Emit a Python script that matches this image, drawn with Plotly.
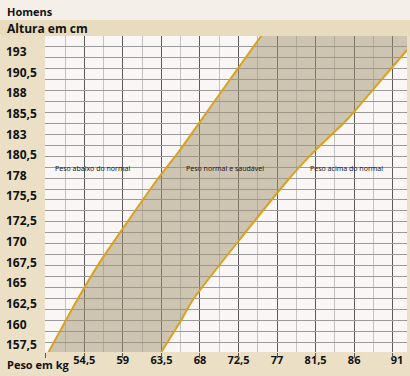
import plotly.graph_objects as go

# Tick labels
x_ticks = [54.5, 59, 63.5, 68, 72.5, 77, 81.5, 86, 91]
x_ticktext = ["54,5", "59", "63,5", "68", "72,5", "77", "81,5", "86", "91"]
y_ticks = [157.5, 160, 162.5, 165, 167.5, 170, 172.5, 175.5, 178, 180.5, 183, 185.5, 188, 190.5, 193]
y_ticktext = [("%g" % v).replace(".", ",") for v in y_ticks]

# Lower weight limit (left boundary of healthy band): height cm -> weight kg
low_height = [156.0, 163.0, 167.5, 177.5, 181.0, 187.0, 196.0]
low_weight = [50.0, 53.7, 56.3, 63.0, 65.6, 69.7, 75.9]

# Upper weight limit (right boundary)
high_height = [156.0, 160.3, 163.0, 177.5, 181.0, 184.7, 188.4, 196.0]
high_weight = [63.1, 65.7, 67.2, 78.3, 81.4, 85.1, 88.2, 94.5]

zone_labels = ["Peso abaixo do normal", "Peso normal e saudável", "Peso acima do normal"]
zone_x = [55.5, 70.9, 85.05]
zone_y = 178.9

XR = [49.91, 92.17]
YR = [156.65, 194.9]
W, H = 410, 376
PW = 407          # plot-region width (l=0, r=3)
PH = 316          # plot-region height (t=36, b=24)
PL = 45           # left edge of the grid (px)
ROWS = PH / 10.93 # printed grid rows

def px(x):
    return x / PW

def py(y):
    return (352 - y) / PH

BOLD = dict(family="Open Sans", size=12, color="#111", weight="bold")
XDOM = [PL / PW, 1]
LINE = dict(color="#d9a21e", width=2, shape="spline", smoothing=0.6)

fig = go.Figure()

fig.add_trace(go.Scatter(x=low_weight, y=low_height, mode="lines", line=LINE, showlegend=False))
fig.add_trace(go.Scatter(x=high_weight, y=high_height, mode="lines", line=LINE, showlegend=False,
                         fill="tonextx", fillcolor="rgba(160,145,110,0.5)"))

# invisible traces to activate overlay axes
fig.add_trace(go.Scatter(x=[XR[0]], y=[0], xaxis="x2", yaxis="y2", mode="none",
                         showlegend=False, hoverinfo="skip"))
fig.add_trace(go.Scatter(x=[XR[0]], y=[YR[0]], xaxis="x", yaxis="y3", mode="none",
                         showlegend=False, hoverinfo="skip"))

for t, xv in zip(zone_labels, zone_x):
    fig.add_annotation(x=xv, y=zone_y, text=t, showarrow=False,
                       font=dict(family="Noto Sans", size=7, color="#1a1a1a"))

# header areas
fig.add_shape(type="rect", xref="paper", yref="paper", x0=-0.05, x1=1.05, y0=py(36), y1=py(20),
              fillcolor="#e8dcbf", line_width=0, layer="below")
fig.add_shape(type="rect", xref="paper", yref="paper", x0=-0.05, x1=1.05, y0=py(20), y1=py(-2),
              fillcolor="#f4efe8", line_width=0, layer="below")

fig.add_annotation(xref="paper", yref="paper", x=px(5), y=py(11), xanchor="left", yanchor="middle",
                   text="<b>Homens</b>", showarrow=False,
                   font=dict(family="Open Sans", size=11, color="#111"))
fig.add_annotation(xref="paper", yref="paper", x=px(5), y=py(28.5), xanchor="left", yanchor="middle",
                   text="<b>Altura em cm</b>", showarrow=False,
                   font=dict(family="Open Sans", size=12, color="#111"))
fig.add_annotation(xref="paper", yref="paper", x=px(5), y=py(364), xanchor="left", yanchor="middle",
                   text="<b>Peso em kg</b>", showarrow=False,
                   font=dict(family="Open Sans", size=11, color="#111"))

fig.update_layout(
    width=W, height=H,
    margin=dict(l=0, r=3, t=36, b=24),
    paper_bgcolor="#ebe0c5",
    plot_bgcolor="#faf6f5",
    showlegend=False,
    xaxis=dict(range=XR, domain=XDOM, tickvals=x_ticks, ticktext=x_ticktext, showgrid=False,
               ticks="", zeroline=False, automargin=False, anchor="y",
               tickfont=dict(family="Open Sans", size=11, color="#111", weight="bold"),
               minor=dict(tick0=50, dtick=2.25, showgrid=True, gridcolor="#c2c2c2", gridwidth=1)),
    xaxis2=dict(range=XR, overlaying="x", anchor="y", tick0=50, dtick=4.5,
                showgrid=True, gridcolor="#5a5a5a", gridwidth=1, showticklabels=False,
                ticks="outside", ticklen=5, tickcolor="#555", side="bottom",
                zeroline=False, automargin=False),
    yaxis=dict(range=YR, showgrid=False, showticklabels=False, ticks="",
               zeroline=False, automargin=False, anchor="x"),
    yaxis2=dict(range=[ROWS, 0], overlaying="y", anchor="x", tick0=0, dtick=1,
                showgrid=True, gridcolor="#9a9a9a", gridwidth=1, showticklabels=False,
                zeroline=False, automargin=False),
    yaxis3=dict(range=YR, overlaying="y", anchor="free", position=0, side="right",
                tickvals=y_ticks, ticktext=y_ticktext, ticklabelposition="outside",
                ticklabelstandoff=5, ticks="", showgrid=False, zeroline=False, automargin=False,
                tickfont=BOLD),
)

fig.write_html("out.html", config={"displayModeBar": False},
               post_script="document.body.style.margin='0';")
